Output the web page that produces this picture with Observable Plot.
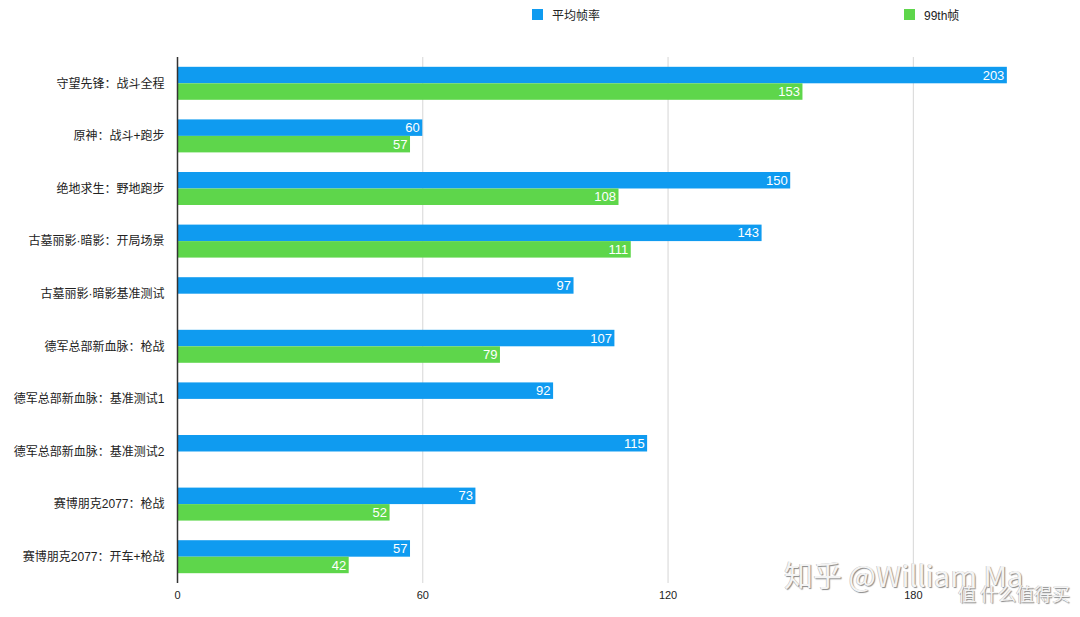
<!DOCTYPE html>
<html>
<head>
<meta charset="utf-8">
<script src="https://cdn.jsdelivr.net/npm/d3@7"></script>
<script src="https://cdn.jsdelivr.net/npm/@observablehq/plot@0.6"></script>
<style>
  html, body { margin: 0; padding: 0; background: #fff; }
  body { width: 1080px; height: 617px; position: relative; overflow: hidden;
         font-family: "Liberation Sans", "Noto Sans CJK SC", sans-serif; }
  #legend { position: relative; height: 30px; font-size: 12px; color: #222; }
  .item { position: absolute; top: 6px; display: flex; align-items: center; }
  .sw { width: 11px; height: 11px; margin-right: 9px; }
  .wm { position: absolute; color: #f4f4f4; white-space: nowrap;
        font-family: "Noto Sans CJK SC", sans-serif;
        text-shadow: 1px 1px 1px #888, -0.5px -0.5px 0 #bbb; pointer-events: none; }
</style>
</head>
<body>
<div id="legend"></div>
<div id="chart"></div>
<div class="wm" style="left:784px; top:553px; font-size:29px;">知乎 @William Ma</div>
<div class="wm" style="left:958px; top:580px; font-size:18px;">值 什么值得买</div>
<script>
const categories = [
  "守望先锋：战斗全程",
  "原神：战斗+跑步",
  "绝地求生：野地跑步",
  "古墓丽影·暗影：开局场景",
  "古墓丽影·暗影基准测试",
  "德军总部新血脉：枪战",
  "德军总部新血脉：基准测试1",
  "德军总部新血脉：基准测试2",
  "赛博朋克2077：枪战",
  "赛博朋克2077：开车+枪战"
];
const avgFps = [203, 60, 150, 143, 97, 107, 92, 115, 73, 57];
const p99Fps = [153, 57, 108, 111, null, 79, null, null, 52, 42];
const seriesNames = ["平均帧率", "99th帧"];
const seriesColors = ["#0f9bf0", "#5ed64b"];
const xTicks = [0, 60, 120, 180];

const avgData = categories.map((c, i) => ({category: c, value: avgFps[i]}));
const p99Data = categories.map((c, i) => ({category: c, value: p99Fps[i]})).filter(d => d.value != null);

// Legend
const legend = document.getElementById("legend");
const legendX = [532, 904];
seriesNames.forEach((name, i) => {
  const el = document.createElement("div");
  el.className = "item";
  el.style.left = legendX[i] + "px";
  el.innerHTML = `<span class="sw" style="background:${seriesColors[i]}"></span><span>${name}</span>`;
  legend.appendChild(el);
});

const fontStack = '"Liberation Sans", "Noto Sans CJK SC", sans-serif';
const half = 16.5;
const chart = Plot.plot({
  width: 1080,
  height: 587,
  marginLeft: 177,
  marginRight: 20,
  marginTop: 27,
  marginBottom: 34,
  style: {fontFamily: fontStack, fontSize: "12px", color: "#222", background: "#fff"},
  x: {domain: [0, 216], ticks: xTicks, label: null, tickSize: 0},
  y: {domain: categories, paddingInner: 0.373, paddingOuter: 0.1865, round: false, label: null, tickSize: 0},
  marks: [
    Plot.gridX(xTicks.filter(t => t > 0), {stroke: "#d6d6d6", strokeOpacity: 1}),
    Plot.barX(avgData, {y: "category", x: "value", fill: seriesColors[0], insetBottom: half}),
    Plot.barX(p99Data, {y: "category", x: "value", fill: seriesColors[1], insetTop: half}),
    Plot.text(avgData, {y: "category", x: "value", text: d => String(d.value), fill: "#fff",
      textAnchor: "end", dx: -3, dy: -8.3, fontSize: 13}),
    Plot.text(p99Data, {y: "category", x: "value", text: d => String(d.value), fill: "#fff",
      textAnchor: "end", dx: -3, dy: 8.3, fontSize: 13}),
    Plot.ruleX([0], {stroke: "#333", strokeWidth: 1.5}),
    Plot.axisY({tickSize: 0, tickPadding: 13, fontSize: 12, label: null}),
    Plot.axisX({ticks: xTicks, tickSize: 0, tickPadding: 8, fontSize: 11, label: null})
  ]
});
document.getElementById("chart").appendChild(chart);
</script>
</body>
</html>
